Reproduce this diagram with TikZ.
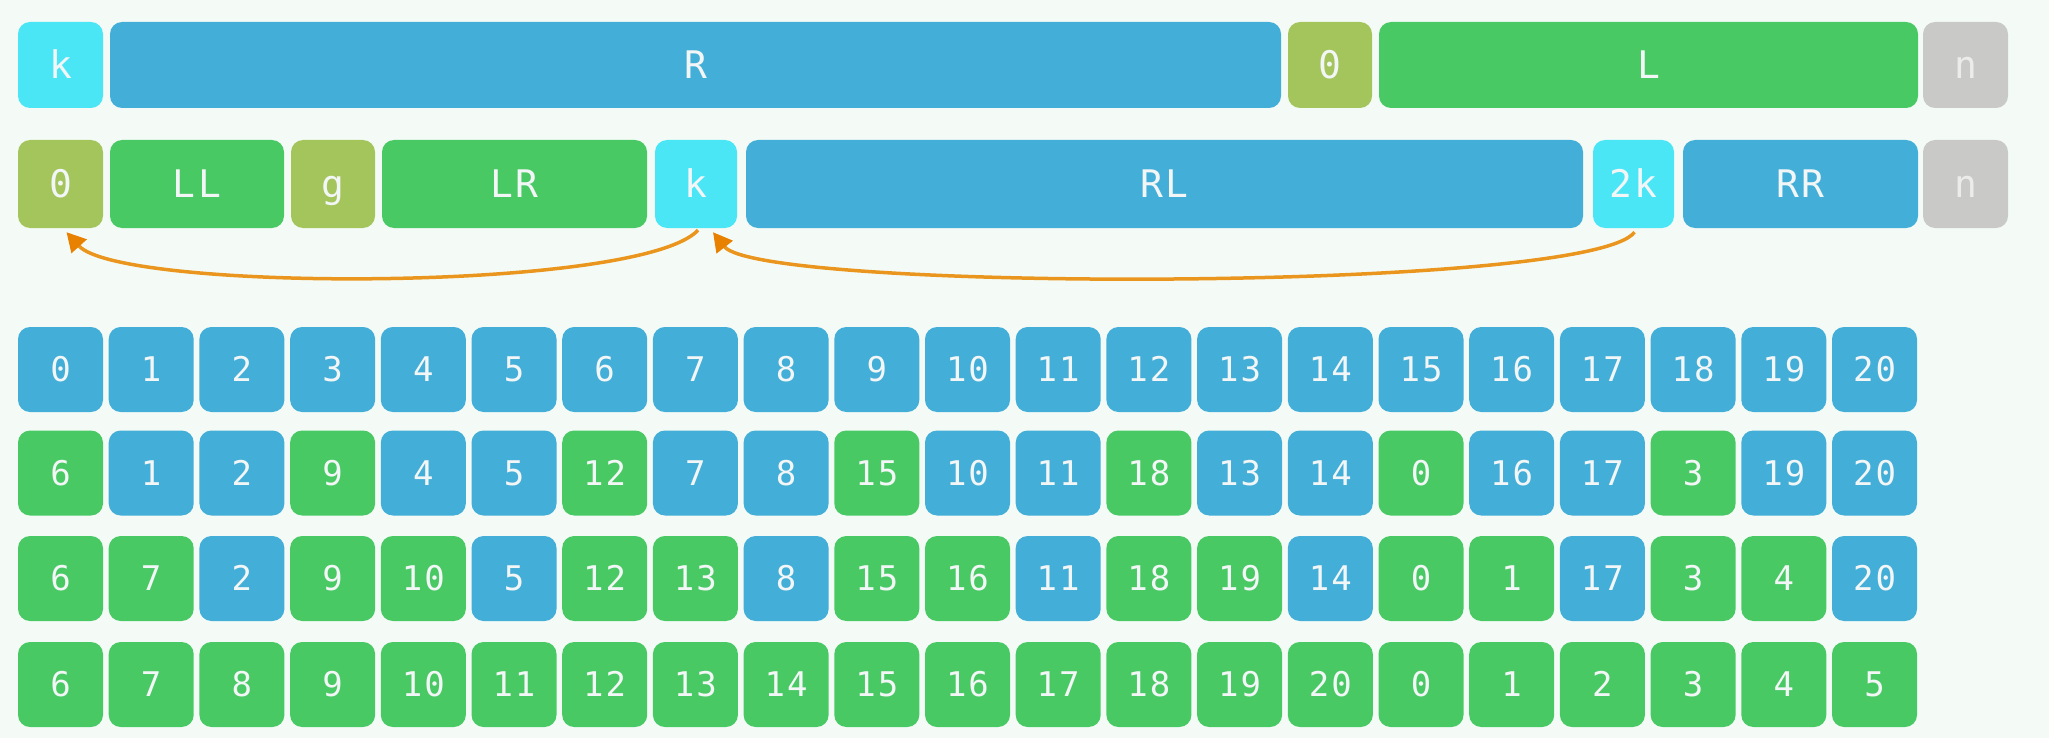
\documentclass[tikz,border=0pt]{standalone}
\usepackage{fontspec}
\newfontfamily\monof[LetterSpace=6]{DejaVu Sans Mono}
\usetikzlibrary{arrows.meta}
\definecolor{bgc}{RGB}{244,251,247}
\definecolor{cb}{RGB}{67,174,215}
\definecolor{cg}{RGB}{73,201,100}
\definecolor{cc}{RGB}{74,230,246}
\definecolor{co}{RGB}{164,197,92}
\definecolor{cn}{RGB}{201,201,199}
\definecolor{orng}{RGB}{234,150,30}
\definecolor{orngd}{RGB}{232,128,0}
\definecolor{txt}{RGB}{242,246,246}
\definecolor{ntxt}{RGB}{236,236,234}
\tikzset{
  cellst/.style={rectangle, rounded corners=12pt, inner sep=0pt, text=txt, draw=none},
  topfont/.style={font=\monof\fontsize{38}{40}\selectfont, text height=27.7pt, text depth=0pt},
  gridfont/.style={font=\monof\fontsize{34}{36}\selectfont, text height=24.8pt, text depth=0pt},
  jump/.style={draw=orng, line width=3.5pt, -{Triangle[length=19pt,width=20pt,color=orngd]}}
}
% #1 name, #2 colour, #3 left x, #4 right x, #5 centre y, #6 height, #7 text
\newcommand\segbox[7]{%
  \node[cellst, topfont, fill=#2, minimum width={(#4-#3)*1pt}, minimum height=#6pt]
    (#1) at ({(#3+#4)/2}, #5) {#7};}
% #1 row prefix, #2 centre y, #3 list value/colour
\newcommand\gridrow[3]{%
  \foreach \v/\c [count=\i from 0] in {#3} {
    \node[cellst, gridfont, fill=\c, minimum width=85pt, minimum height=85pt]
      (#1\i) at ({60.5+90.7*\i}, #2) {\v};
  }}
\begin{document}
\begin{tikzpicture}[x=1pt, y=-1pt]
\fill[bgc] (0,0) rectangle (2049,738);
\useasboundingbox (0,0) rectangle (2049,738);
% first bar
\segbox{ak}{cc}{18}{103}{65}{86}{k}
\segbox{aR}{cb}{110}{1281}{65}{86}{R}
\segbox{az}{co}{1288}{1372}{65}{86}{0}
\segbox{aL}{cg}{1379}{1918}{65}{86}{L}
\segbox{an}{cn}{1923}{2008}{65}{86}{\textcolor{ntxt}{n}}
% second bar
\segbox{bz}{co}{18}{103}{184}{88}{0}
\segbox{bLL}{cg}{110}{284}{184}{88}{LL}
\segbox{bg}{co}{291}{375}{184}{88}{g}
\segbox{bLR}{cg}{382}{647}{184}{88}{LR}
\segbox{bk}{cc}{655}{737}{184}{88}{k}
\segbox{bRL}{cb}{746}{1583}{184}{88}{RL}
\segbox{bkk}{cc}{1593}{1674}{184}{88}{2k}
\segbox{bRR}{cb}{1683}{1918}{184}{88}{RR}
\segbox{bn}{cn}{1923}{2008}{184}{88}{\textcolor{ntxt}{n}}
% arrows
\draw[jump] ([xshift=2pt,yshift=-2pt]bk.south) .. controls +(-58,62) and +(54,60) .. ([xshift=6pt,yshift=-4pt]bz.south);
\draw[jump] ([xshift=1pt,yshift=-4pt]bkk.south) .. controls +(-45,60) and +(47,60) .. ([xshift=17pt,yshift=-4pt]bk.south);
% grid
\gridrow{ga}{369.5}{0/cb,1/cb,2/cb,3/cb,4/cb,5/cb,6/cb,7/cb,8/cb,9/cb,10/cb,11/cb,12/cb,13/cb,14/cb,15/cb,16/cb,17/cb,18/cb,19/cb,20/cb}
\gridrow{gb}{473}{6/cg,1/cb,2/cb,9/cg,4/cb,5/cb,12/cg,7/cb,8/cb,15/cg,10/cb,11/cb,18/cg,13/cb,14/cb,0/cg,16/cb,17/cb,3/cg,19/cb,20/cb}
\gridrow{gc}{578.5}{6/cg,7/cg,2/cb,9/cg,10/cg,5/cb,12/cg,13/cg,8/cb,15/cg,16/cg,11/cb,18/cg,19/cg,14/cb,0/cg,1/cg,17/cb,3/cg,4/cg,20/cb}
\gridrow{gd}{684.5}{6/cg,7/cg,8/cg,9/cg,10/cg,11/cg,12/cg,13/cg,14/cg,15/cg,16/cg,17/cg,18/cg,19/cg,20/cg,0/cg,1/cg,2/cg,3/cg,4/cg,5/cg}
\end{tikzpicture}
\end{document}
